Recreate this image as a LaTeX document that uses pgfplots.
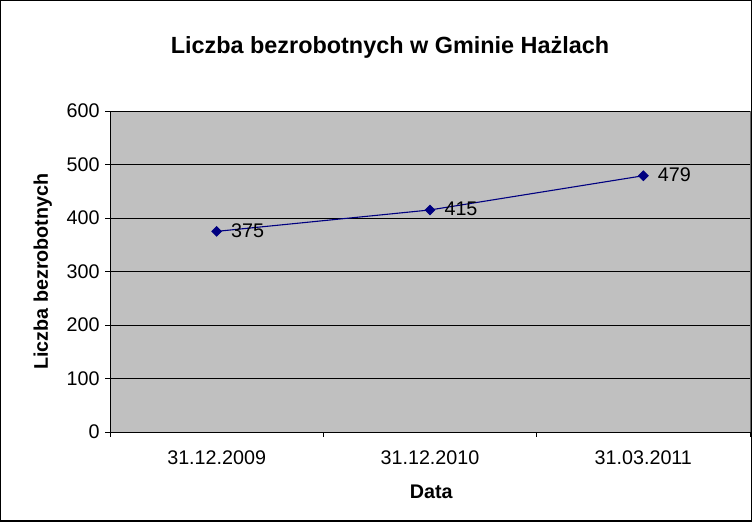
\documentclass[border=0pt]{standalone}
\usepackage{fontspec}
\setmainfont{Liberation Sans}
\usepackage{pgfplots}
\pgfplotsset{compat=1.18}

\definecolor{plotgray}{RGB}{192,192,192}
\definecolor{navy}{RGB}{0,0,128}

\begin{document}
\begin{tikzpicture}[x=1bp,y=1bp]
\useasboundingbox (0,0) rectangle (752,522);
\draw[line width=1.5bp] (0.75,0.75) rectangle (751.25,521.25);
\begin{axis}[
    at={(110bp,90bp)},
    anchor=south west,
    scale only axis,
    width=640bp,
    height=321bp,
    xmin=-0.5, xmax=2.5,
    ymin=0, ymax=600,
    xtick={0,1,2},
    xticklabels={31.12.2009,31.12.2010,31.03.2011},
    major x tick style={draw=none},
    minor xtick={-0.5,0.5,1.5,2.5},
    ytick={0,100,...,600},
    tick align=outside,
    major tick length=5bp,
    minor tick length=5bp,
    tick style={black, line width=0.8bp},
    axis lines*=left,
    axis line style={black, line width=0.8bp, -},
    axis background/.style={fill=plotgray, draw=gray!80!black, line width=0.8bp},
    ymajorgrids,
    grid style={black, line width=0.7bp},
    /pgf/number format/assume math mode=true,
    ticklabel style={font=\fontsize{19.8}{23}\selectfont},
    yticklabel style={xshift=-2bp},
    xticklabel style={yshift=-10bp},
    title={Liczba bezrobotnych w Gminie Hażlach},
    title style={font=\fontsize{23.5}{28}\selectfont\bfseries, at={(axis description cs:0.4375,1.18)}, anchor=center},
    xlabel={Data},
    xlabel style={font=\fontsize{19.8}{23}\selectfont\bfseries, at={(axis description cs:0.502,-0.187)}, anchor=center},
    ylabel={Liczba bezrobotnych},
    ylabel style={font=\fontsize{19.8}{23}\selectfont\bfseries, at={(axis description cs:-0.105,0.5)}, anchor=center},
    clip=false,
]
\addplot[navy, line width=1.1bp, mark=square*, mark size=3.3bp,
    mark options={fill=navy, rotate=45},
    nodes near coords,
    every node near coord/.append style={black, anchor=west, inner sep=0pt, xshift=14bp, yshift=1bp,
        font=\fontsize{19.8}{23}\selectfont}]
coordinates {(0,375) (1,415) (2,479)};
\end{axis}
\end{tikzpicture}
\end{document}
